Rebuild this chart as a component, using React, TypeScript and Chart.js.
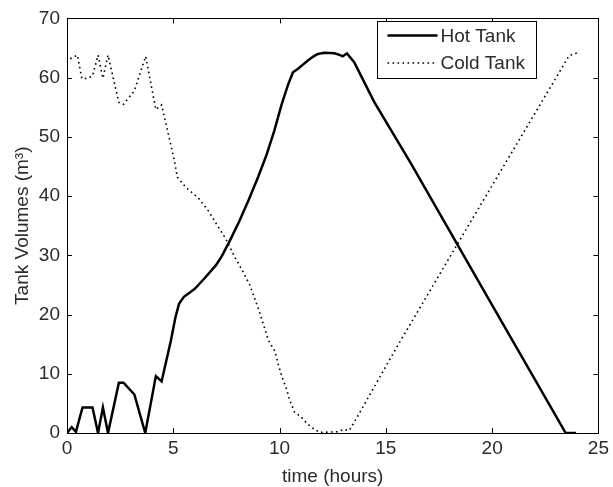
import React, { useEffect, useRef } from "react";
import { Chart, registerables } from "chart.js";

Chart.register(...registerables);

const hotTime = [0, 0.22, 0.42, 0.73, 1.2, 1.46, 1.69, 1.93, 2.44, 2.66, 3.17, 3.68, 4.18, 4.45, 4.88, 5.1, 5.27, 5.5, 6.0, 6.44, 7.0, 7.29, 7.68, 8.1, 8.54, 9.0, 9.39, 9.75, 10.09, 10.4, 10.63, 10.87, 11.1, 11.33, 11.6, 11.8, 12.11, 12.58, 12.85, 12.97, 13.17, 13.51, 14.45, 16.15, 20, 23.46, 23.95];
const hotVol = [0, 1.0, 0.2, 4.3, 4.3, 0, 4.3, 0, 8.5, 8.5, 6.5, 0, 9.6, 8.7, 15.5, 19.5, 21.8, 23, 24.3, 26, 28.3, 29.9, 32.6, 35.7, 39.3, 43.3, 47, 51, 55.4, 58.8, 60.9, 61.5, 62.2, 62.9, 63.6, 64, 64.2, 64.1, 63.8, 63.6, 64.1, 62.6, 55.9, 45.7, 21.6, 0, 0];

const coldTime = [0.15, 0.49, 0.7, 1.0, 1.2, 1.46, 1.69, 1.93, 2.44, 2.66, 3.17, 3.7, 4.18, 4.45, 5.04, 5.19, 5.58, 6.2, 6.67, 7.06, 7.45, 7.91, 8.3, 8.61, 9.0, 9.47, 9.78, 9.94, 10.1, 10.33, 10.48, 10.71, 11.02, 11.29, 11.57, 11.88, 12.73, 13.0, 13.27, 13.43, 15.53, 18.3, 23.62, 24.0];
const coldVol = [63.2, 63.8, 59.8, 59.9, 60.3, 63.8, 59.9, 63.8, 55.8, 55.5, 57.8, 63.6, 54.6, 55.4, 46.2, 43.2, 41.5, 39.6, 37.4, 35.1, 32.9, 29.6, 27.1, 24.9, 21, 15.7, 13.8, 11.6, 9.6, 7.4, 5.5, 3.5, 2.7, 1.6, 0.8, 0.1, 0.2, 0.6, 0.4, 1.3, 14.6, 31.5, 63.7, 64.2];

const seriesLabels = ["Hot Tank", "Cold Tank"];
const xTicks = [0, 5, 10, 15, 20, 25];
const yTicks = [0, 10, 20, 30, 40, 50, 60, 70];

const FONT = "'Liberation Sans', Arial, sans-serif";
const TEXT = "#2b2b2b";

const boxPlugin = {
  id: "matlabBox",
  afterDatasetsDraw(chart: any) {
    const { ctx, chartArea } = chart;
    const xs = chart.scales.x;
    const ys = chart.scales.y;
    const { left, right, top, bottom } = chartArea;
    ctx.save();
    ctx.strokeStyle = "#000";
    ctx.lineWidth = 1;
    ctx.strokeRect(Math.round(left) + 0.5, Math.round(top) + 0.5, Math.round(right - left), Math.round(bottom - top));
    const tl = 5;
    ctx.beginPath();
    xTicks.forEach((v) => {
      const px = Math.round(xs.getPixelForValue(v)) + 0.5;
      ctx.moveTo(px, bottom);
      ctx.lineTo(px, bottom - tl);
      ctx.moveTo(px, top);
      ctx.lineTo(px, top + tl);
    });
    yTicks.forEach((v) => {
      const py = Math.round(ys.getPixelForValue(v)) + 0.5;
      ctx.moveTo(left, py);
      ctx.lineTo(left + tl, py);
      ctx.moveTo(right, py);
      ctx.lineTo(right - tl, py);
    });
    ctx.stroke();
    ctx.restore();
  },
  afterDraw(chart: any) {
    const { ctx, chartArea } = chart;
    const bx = Math.round(chartArea.right - 221) + 0.5;
    const by = Math.round(chartArea.top + 3) + 0.5;
    const bw = 159;
    const bh = 57;
    ctx.save();
    ctx.fillStyle = "#fff";
    ctx.fillRect(bx, by, bw, bh);
    ctx.strokeStyle = "#000";
    ctx.lineWidth = 1;
    ctx.strokeRect(bx, by, bw, bh);
    const rows = [by + 14, by + 41.5];
    chart.data.datasets.forEach((ds: any, i: number) => {
      ctx.save();
      ctx.strokeStyle = ds.borderColor;
      ctx.lineWidth = ds.borderWidth;
      ctx.setLineDash(ds.borderDash || []);
      ctx.beginPath();
      ctx.moveTo(bx + 10, rows[i]);
      ctx.lineTo(bx + 60, rows[i]);
      ctx.stroke();
      ctx.restore();
      ctx.fillStyle = TEXT;
      ctx.font = `19px ${FONT}`;
      ctx.textBaseline = "middle";
      ctx.textAlign = "left";
      ctx.fillText(ds.label, bx + 63, rows[i] + 1);
    });
    ctx.restore();
  },
};

export default function App() {
  const ref = useRef<HTMLCanvasElement>(null);
  useEffect(() => {
    if (!ref.current) return;
    const chart = new Chart(ref.current, {
      type: "scatter",
      data: {
        datasets: [
          {
            label: seriesLabels[0],
            data: hotTime.map((t, i) => ({ x: t, y: hotVol[i] })),
            showLine: true,
            borderColor: "#000",
            borderWidth: 2.5,
            pointRadius: 0,
            fill: false,
          },
          {
            label: seriesLabels[1],
            data: coldTime.map((t, i) => ({ x: t, y: coldVol[i] })),
            showLine: true,
            borderColor: "#000",
            borderWidth: 1.6,
            borderDash: [1.6, 3.4],
            pointRadius: 0,
            fill: false,
          },
        ],
      },
      options: {
        animation: false,
        responsive: false,
        devicePixelRatio: 1,
        layout: { padding: { top: 12, right: 10, left: 0, bottom: 0 } },
        plugins: { legend: { display: false }, tooltip: { enabled: false } },
        scales: {
          x: {
            type: "linear",
            min: 0,
            max: 25,
            afterFit: (s: any) => {
              s.height = 54;
            },
            afterBuildTicks: (s: any) => {
              s.ticks = xTicks.map((v) => ({ value: v }));
            },
            grid: { display: false, drawTicks: false, tickLength: 0 },
            border: { display: false },
            ticks: { color: TEXT, font: { family: FONT, size: 19 }, padding: 4, maxRotation: 0 },
            title: { display: true, text: "time (hours)", color: TEXT, font: { family: FONT, size: 19 }, padding: { top: 0, bottom: -1 } },
          },
          y: {
            type: "linear",
            min: 0,
            max: 70,
            afterFit: (s: any) => {
              s.width = 67;
            },
            afterBuildTicks: (s: any) => {
              s.ticks = yTicks.map((v) => ({ value: v }));
            },
            grid: { display: false, drawTicks: false, tickLength: 0 },
            border: { display: false },
            ticks: { color: TEXT, font: { family: FONT, size: 19 }, padding: 7 },
            title: { display: true, text: "Tank Volumes (m³)", color: TEXT, font: { family: FONT, size: 19 }, padding: { top: 11, bottom: 0 } },
          },
        },
      },
      plugins: [boxPlugin],
    });
    return () => chart.destroy();
  }, []);
  return (
    <div style={{ position: "absolute", left: 0, top: 0, width: 613, height: 487, background: "#fff" }}>
      <canvas ref={ref} width={613} height={487} style={{ display: "block" }} />
    </div>
  );
}
